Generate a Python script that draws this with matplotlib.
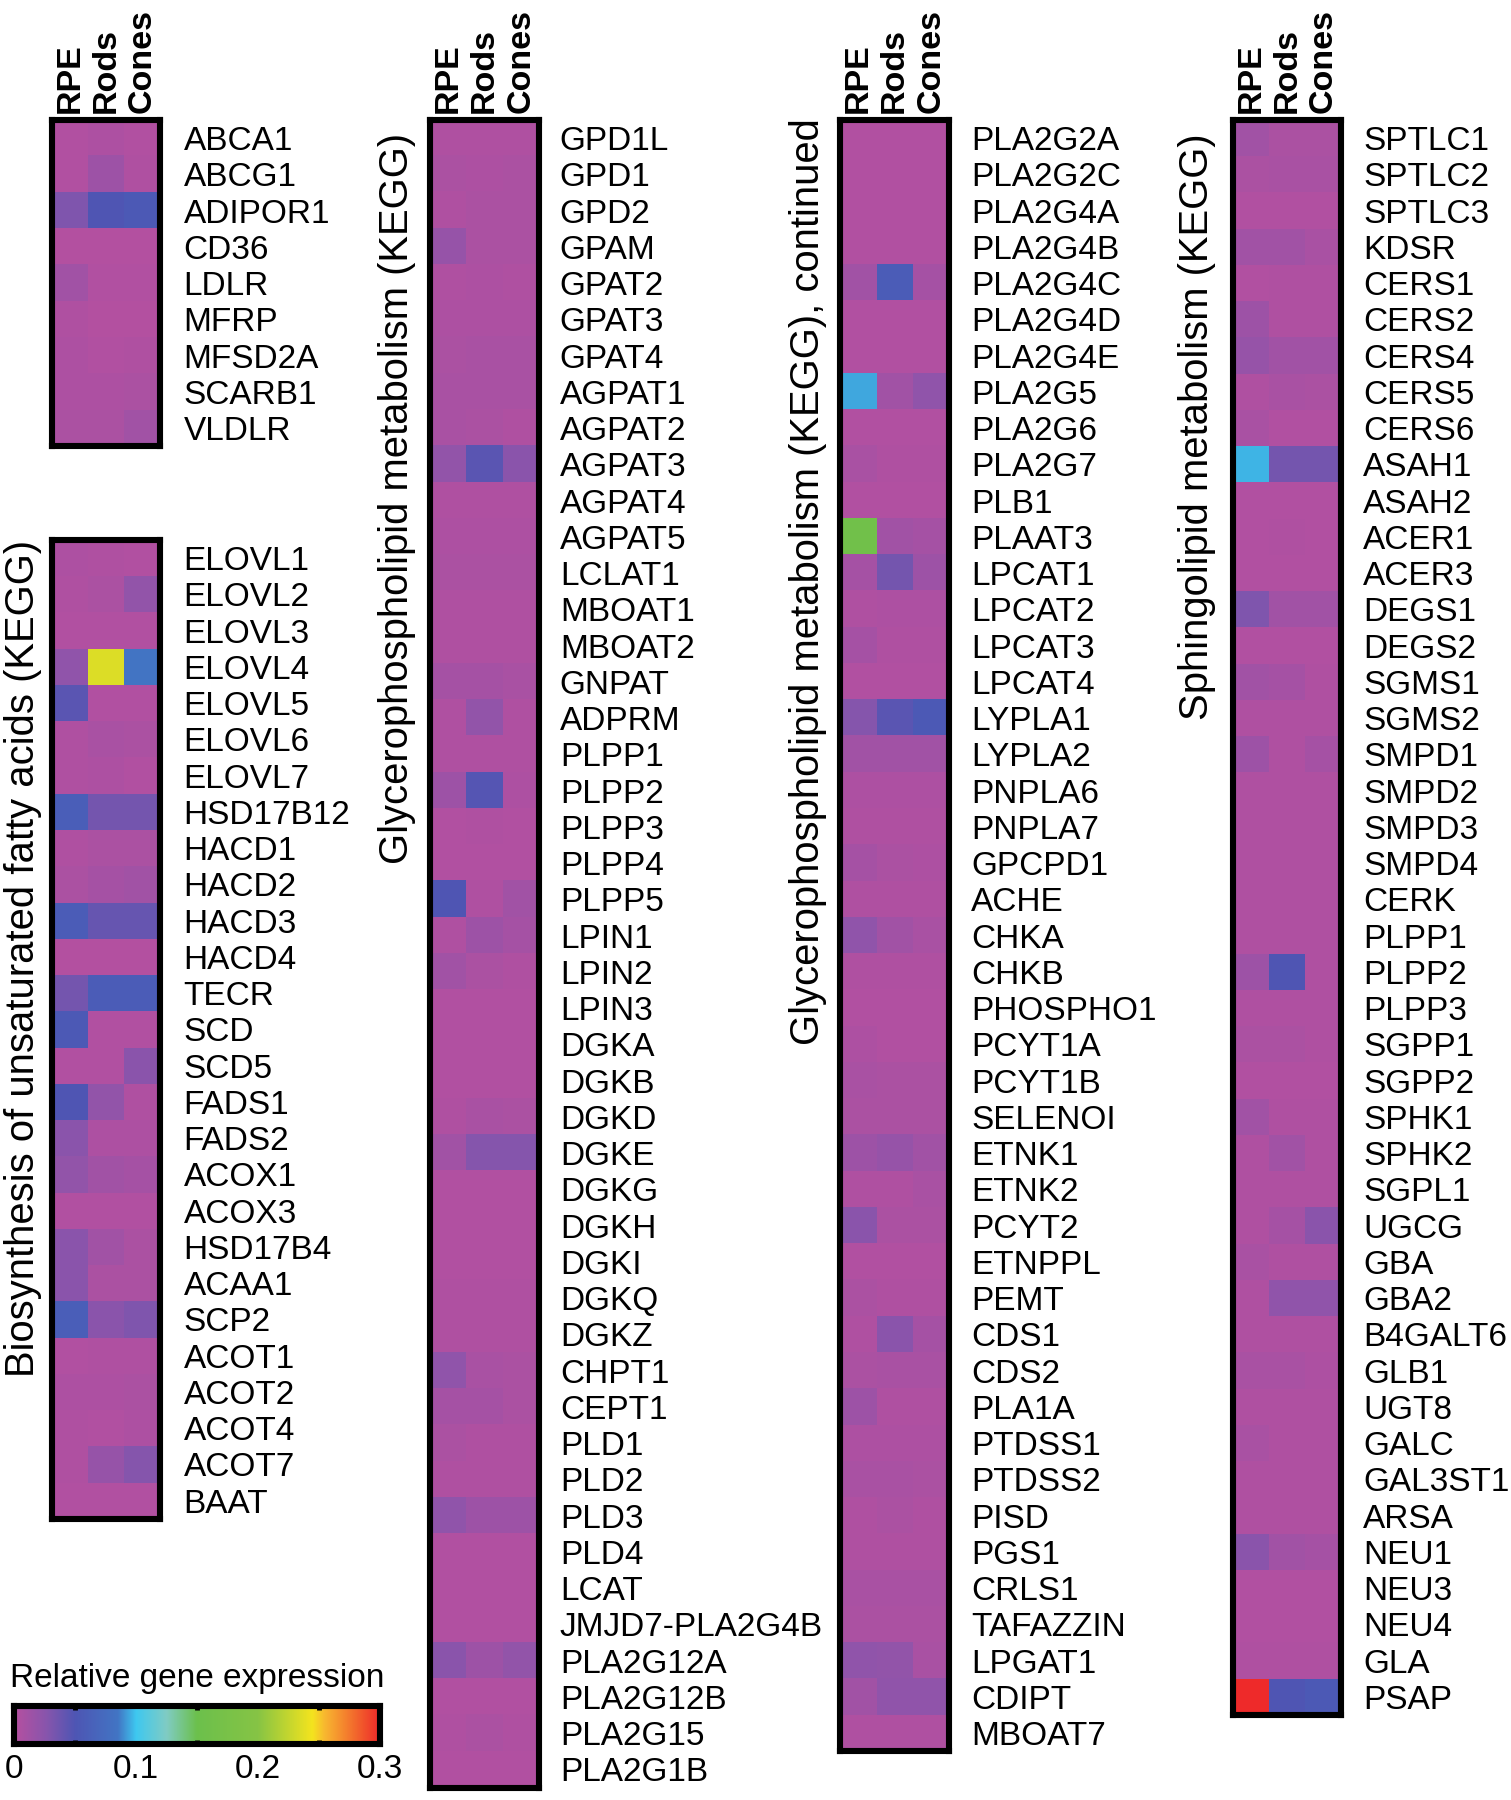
import numpy as np
import matplotlib
matplotlib.use("Agg")
import matplotlib.pyplot as plt
from matplotlib.colors import LinearSegmentedColormap

plt.rcParams['font.family'] = ['Liberation Sans', 'DejaVu Sans']

cell_types = ["RPE", "Rods", "Cones"]

# ---- Panel 1: lipid uptake genes ----
genes_uptake = ["ABCA1", "ABCG1", "ADIPOR1", "CD36", "LDLR", "MFRP", "MFSD2A", "SCARB1", "VLDLR"]
rpe_uptake = [0.003, 0.003, 0.030, 0.002, 0.012, 0.004, 0.005, 0.005, 0.007]
rods_uptake = [0.005, 0.015, 0.050, 0.002, 0.003, 0.002, 0.003, 0.005, 0.007]
cones_uptake = [0.003, 0.004, 0.055, 0.002, 0.003, 0.002, 0.004, 0.007, 0.012]

# ---- Panel 2: Biosynthesis of unsaturated fatty acids ----
genes_ufa = ["ELOVL1", "ELOVL2", "ELOVL3", "ELOVL4", "ELOVL5", "ELOVL6", "ELOVL7", "HSD17B12",
             "HACD1", "HACD2", "HACD3", "HACD4", "TECR", "SCD", "SCD5", "FADS1", "FADS2",
             "ACOX1", "ACOX3", "HSD17B4", "ACAA1", "SCP2", "ACOT1", "ACOT2", "ACOT4", "ACOT7", "BAAT"]
rpe_ufa = [0.005, 0.004, 0.003, 0.022, 0.045, 0.004, 0.004, 0.060, 0.004, 0.006, 0.058, 0.002, 0.035,
           0.055, 0.003, 0.050, 0.025, 0.020, 0.003, 0.025, 0.025, 0.060, 0.003, 0.005, 0.004, 0.004, 0.003]
rods_ufa = [0.004, 0.006, 0.003, 0.235, 0.003, 0.008, 0.005, 0.035, 0.006, 0.010, 0.040, 0.002, 0.058,
            0.003, 0.003, 0.020, 0.005, 0.012, 0.003, 0.012, 0.006, 0.025, 0.004, 0.005, 0.003, 0.018, 0.003]
cones_ufa = [0.003, 0.020, 0.003, 0.085, 0.003, 0.006, 0.003, 0.035, 0.006, 0.012, 0.040, 0.002, 0.058,
             0.003, 0.025, 0.004, 0.005, 0.010, 0.003, 0.006, 0.006, 0.030, 0.004, 0.006, 0.005, 0.028, 0.003]

# ---- Panel 3: Glycerophospholipid metabolism ----
genes_gpl = ["GPD1L", "GPD1", "GPD2", "GPAM", "GPAT2", "GPAT3", "GPAT4", "AGPAT1", "AGPAT2", "AGPAT3",
             "AGPAT4", "AGPAT5", "LCLAT1", "MBOAT1", "MBOAT2", "GNPAT", "ADPRM", "PLPP1", "PLPP2", "PLPP3",
             "PLPP4", "PLPP5", "LPIN1", "LPIN2", "LPIN3", "DGKA", "DGKB", "DGKD", "DGKE", "DGKG", "DGKH",
             "DGKI", "DGKQ", "DGKZ", "CHPT1", "CEPT1", "PLD1", "PLD2", "PLD3", "PLD4", "LCAT",
             "JMJD7-PLA2G4B", "PLA2G12A", "PLA2G12B", "PLA2G15", "PLA2G1B"]
rpe_gpl = [0.004, 0.006, 0.004, 0.018, 0.004, 0.005, 0.006, 0.008, 0.008, 0.020,
           0.004, 0.005, 0.006, 0.004, 0.004, 0.010, 0.004, 0.004, 0.015, 0.003,
           0.003, 0.050, 0.004, 0.012, 0.003, 0.003, 0.003, 0.004, 0.012, 0.003, 0.003,
           0.003, 0.004, 0.004, 0.022, 0.010, 0.006, 0.004, 0.022, 0.003, 0.003,
           0.003, 0.025, 0.003, 0.004, 0.003]
rods_gpl = [0.004, 0.005, 0.006, 0.006, 0.005, 0.005, 0.008, 0.008, 0.006, 0.045,
            0.004, 0.005, 0.006, 0.004, 0.004, 0.010, 0.020, 0.004, 0.048, 0.004,
            0.003, 0.004, 0.015, 0.006, 0.003, 0.003, 0.003, 0.008, 0.028, 0.003, 0.003,
            0.003, 0.004, 0.004, 0.008, 0.010, 0.004, 0.004, 0.015, 0.003, 0.003,
            0.003, 0.015, 0.003, 0.006, 0.003]
cones_gpl = [0.004, 0.006, 0.006, 0.006, 0.004, 0.005, 0.008, 0.008, 0.004, 0.025,
             0.004, 0.005, 0.006, 0.004, 0.004, 0.008, 0.004, 0.004, 0.005, 0.003,
             0.003, 0.012, 0.010, 0.004, 0.003, 0.003, 0.003, 0.006, 0.028, 0.003, 0.003,
             0.003, 0.004, 0.004, 0.006, 0.006, 0.004, 0.004, 0.015, 0.003, 0.003,
             0.003, 0.020, 0.003, 0.004, 0.003]

# ---- Panel 4: Glycerophospholipid metabolism, continued ----
genes_gpl2 = ["PLA2G2A", "PLA2G2C", "PLA2G4A", "PLA2G4B", "PLA2G4C", "PLA2G4D", "PLA2G4E", "PLA2G5",
              "PLA2G6", "PLA2G7", "PLB1", "PLAAT3", "LPCAT1", "LPCAT2", "LPCAT3", "LPCAT4", "LYPLA1",
              "LYPLA2", "PNPLA6", "PNPLA7", "GPCPD1", "ACHE", "CHKA", "CHKB", "PHOSPHO1", "PCYT1A",
              "PCYT1B", "SELENOI", "ETNK1", "ETNK2", "PCYT2", "ETNPPL", "PEMT", "CDS1", "CDS2", "PLA1A",
              "PTDSS1", "PTDSS2", "PISD", "PGS1", "CRLS1", "TAFAZZIN", "LPGAT1", "CDIPT", "MBOAT7"]
rpe_gpl2 = [0.003, 0.003, 0.003, 0.003, 0.012, 0.003, 0.003, 0.094, 0.003, 0.008, 0.003, 0.160,
            0.010, 0.004, 0.010, 0.003, 0.028, 0.012, 0.005, 0.004, 0.010, 0.004, 0.022, 0.004,
            0.003, 0.005, 0.008, 0.006, 0.015, 0.004, 0.025, 0.003, 0.006, 0.004, 0.006, 0.015,
            0.005, 0.008, 0.004, 0.004, 0.008, 0.006, 0.022, 0.012, 0.004]
rods_gpl2 = [0.003, 0.003, 0.003, 0.003, 0.058, 0.003, 0.003, 0.012, 0.003, 0.004, 0.003, 0.012,
             0.035, 0.005, 0.004, 0.003, 0.045, 0.012, 0.005, 0.004, 0.006, 0.004, 0.012, 0.004,
             0.003, 0.003, 0.006, 0.006, 0.018, 0.004, 0.006, 0.003, 0.004, 0.025, 0.008, 0.004,
             0.005, 0.008, 0.006, 0.004, 0.008, 0.006, 0.020, 0.022, 0.004]
cones_gpl2 = [0.003, 0.003, 0.003, 0.003, 0.010, 0.003, 0.003, 0.022, 0.003, 0.004, 0.003, 0.010,
              0.015, 0.005, 0.004, 0.003, 0.055, 0.012, 0.005, 0.004, 0.005, 0.004, 0.008, 0.004,
              0.003, 0.003, 0.006, 0.006, 0.012, 0.008, 0.006, 0.003, 0.004, 0.010, 0.008, 0.004,
              0.005, 0.006, 0.004, 0.004, 0.008, 0.006, 0.008, 0.022, 0.004]

# ---- Panel 5: Sphingolipid metabolism ----
genes_sph = ["SPTLC1", "SPTLC2", "SPTLC3", "KDSR", "CERS1", "CERS2", "CERS4", "CERS5", "CERS6", "ASAH1",
             "ASAH2", "ACER1", "ACER3", "DEGS1", "DEGS2", "SGMS1", "SGMS2", "SMPD1", "SMPD2", "SMPD3",
             "SMPD4", "CERK", "PLPP1", "PLPP2", "PLPP3", "SGPP1", "SGPP2", "SPHK1", "SPHK2", "SGPL1",
             "UGCG", "GBA", "GBA2", "B4GALT6", "GLB1", "UGT8", "GALC", "GAL3ST1", "ARSA", "NEU1",
             "NEU3", "NEU4", "GLA", "PSAP"]
rpe_sph = [0.012, 0.006, 0.003, 0.012, 0.003, 0.015, 0.018, 0.004, 0.008, 0.097,
           0.003, 0.003, 0.003, 0.030, 0.003, 0.012, 0.004, 0.015, 0.004, 0.004,
           0.004, 0.004, 0.004, 0.015, 0.004, 0.006, 0.003, 0.012, 0.004, 0.004,
           0.004, 0.008, 0.004, 0.004, 0.008, 0.004, 0.008, 0.004, 0.004, 0.025,
           0.003, 0.003, 0.004, 0.300]
rods_sph = [0.006, 0.008, 0.003, 0.012, 0.004, 0.004, 0.012, 0.008, 0.003, 0.035,
            0.003, 0.004, 0.003, 0.012, 0.003, 0.010, 0.004, 0.004, 0.004, 0.004,
            0.004, 0.004, 0.004, 0.050, 0.004, 0.006, 0.003, 0.004, 0.012, 0.004,
            0.010, 0.004, 0.022, 0.004, 0.008, 0.004, 0.004, 0.004, 0.004, 0.012,
            0.003, 0.003, 0.004, 0.050]
cones_sph = [0.006, 0.008, 0.003, 0.008, 0.004, 0.004, 0.012, 0.006, 0.003, 0.035,
             0.003, 0.003, 0.003, 0.012, 0.003, 0.004, 0.004, 0.010, 0.004, 0.004,
             0.004, 0.004, 0.004, 0.004, 0.004, 0.004, 0.003, 0.004, 0.004, 0.004,
             0.025, 0.004, 0.022, 0.004, 0.005, 0.004, 0.004, 0.004, 0.004, 0.010,
             0.003, 0.003, 0.004, 0.055]

group_titles = ["Biosynthesis of unsaturated fatty acids (KEGG)",
                "Glycerophospholipid metabolism (KEGG)",
                "Glycerophospholipid metabolism (KEGG), continued",
                "Sphingolipid metabolism (KEGG)"]
cbar_label = "Relative gene expression"
cbar_ticks = [0, 0.1, 0.2, 0.3]
cbar_ticklabels = ["0", "0.1", "0.2", "0.3"]

# ---- colormap ----
cmap = LinearSegmentedColormap.from_list("expr", [
    (0.0, "#b650a0"),
    (0.025 / 0.3, "#8a55ac"),
    (0.05 / 0.3, "#4e56b4"),
    (0.085 / 0.3, "#4275c4"),
    (0.10 / 0.3, "#3ec8f0"),
    (0.125 / 0.3, "#80ccc4"),
    (0.15 / 0.3, "#6cc04c"),
    (0.20 / 0.3, "#86c445"),
    (0.245 / 0.3, "#f4e41e"),
    (0.255 / 0.3, "#f8b830"),
    (1.0, "#ee2a2a"),
])

W, H = 1511, 1800
fig = plt.figure(figsize=(W / 100, H / 100), dpi=100)

ROW = 36.25
GENE_FS = 24
HEAD_FS = 24.5
TITLE_FS = 28.8


def fx(px):
    return px / W


def fy(py):
    return 1 - py / H


def add_panel(x0, x1, top, genes, cols, show_header, pad):
    n = len(genes)
    bottom = top + n * ROW
    ax = fig.add_axes([fx(x0), fy(bottom), fx(x1 - x0), (bottom - top) / H])
    data = np.array(cols).T
    ax.imshow(data, cmap=cmap, vmin=0, vmax=0.3, aspect='auto', interpolation='nearest')
    ax.set_yticks(range(n))
    ax.set_yticklabels(genes, fontsize=GENE_FS)
    ax.yaxis.tick_right()
    ax.tick_params(axis='y', length=0, pad=pad)
    if show_header:
        ax.set_xticks(range(3))
        ax.set_xticklabels(cell_types, rotation=90, fontsize=HEAD_FS, fontweight='bold')
        ax.xaxis.tick_top()
        ax.tick_params(axis='x', length=0, pad=5)
    else:
        ax.set_xticks([])
    for s in ax.spines.values():
        s.set_linewidth(4.4)
        s.set_color('black')
    return ax


add_panel(52, 160, 120, genes_uptake, [rpe_uptake, rods_uptake, cones_uptake], True, 17)
add_panel(52, 160, 540, genes_ufa, [rpe_ufa, rods_ufa, cones_ufa], False, 17)
add_panel(430, 539, 120, genes_gpl, [rpe_gpl, rods_gpl, cones_gpl], True, 15)
add_panel(840, 949, 120, genes_gpl2, [rpe_gpl2, rods_gpl2, cones_gpl2], True, 16)
add_panel(1233, 1341, 120, genes_sph, [rpe_sph, rods_sph, cones_sph], True, 16)

# group titles (rotated)
title_pos = [(23, 540), (397, 133), (808, 118), (1197, 133)]
for t, (x, y) in zip(group_titles, title_pos):
    fig.text(fx(x), fy(y), t, rotation=90, ha='center', va='top', fontsize=TITLE_FS)

# colorbar
cax = fig.add_axes([fx(14), fy(1744), fx(380 - 14), (1744 - 1706) / H])
grad = np.linspace(0, 0.3, 512).reshape(1, -1)
cax.imshow(grad, cmap=cmap, vmin=0, vmax=0.3, aspect='auto', extent=[0, 0.3, 0, 1],
           interpolation='bilinear')
cax.set_xlim(0, 0.3)
cax.set_yticks([])
cax.set_xticks(cbar_ticks)
cax.set_xticklabels(cbar_ticklabels, fontsize=GENE_FS)
cax.tick_params(axis='x', which='major', length=0, pad=7)
cax.set_xticks([0.05, 0.1, 0.15, 0.2, 0.25], minor=True)
cax.tick_params(axis='x', which='minor', direction='in', length=3, width=3.5,
                top=True, bottom=True, color='black')
for s in cax.spines.values():
    s.set_linewidth(4.4)
    s.set_color('black')
fig.text(fx(10), fy(1678), cbar_label, ha='left', va='center', fontsize=GENE_FS)

fig.savefig("out.png", dpi=100)
